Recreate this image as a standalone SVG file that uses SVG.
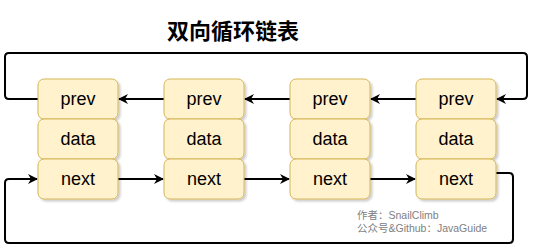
<svg xmlns="http://www.w3.org/2000/svg" width="534" height="251" viewBox="0 0 534 251">
<style>
.box{fill:#fff2cc;stroke:#d6b656;stroke-width:1;filter:url(#sh)}
.lbl{font-family:"Liberation Sans",Arial,sans-serif;font-size:18px;fill:#000;text-anchor:middle;dominant-baseline:central}
.ln{fill:none;stroke:#000;stroke-width:2;stroke-linejoin:round}
.wm{font-family:"Liberation Sans","Noto Sans CJK SC",sans-serif;font-size:10.5px;fill:#808080;font-weight:normal}
</style>
<defs>
<filter id="sh" x="-20%" y="-20%" width="140%" height="140%">
<feDropShadow dx="2" dy="2" stdDeviation="1" flood-color="#000" flood-opacity="0.2"/>
</filter>
<marker id="ah" viewBox="0 0 10 10" refX="9" refY="5" markerWidth="5" markerHeight="5" orient="auto" markerUnits="strokeWidth">
<path d="M0,0 L10,5 L0,10 L3,5 Z" fill="#000"/>
</marker>
</defs>
<text x="233" y="39" font-family="'Noto Sans CJK SC',sans-serif" font-size="22" font-weight="bold" text-anchor="middle">双向循环链表</text>
<g id="connectors">
<path class="ln" d="M38,99 H9 Q5,99 5,95 V57 Q5,53 9,53 H523 Q527,53 527,57 V95 Q527,99 523,99 H497" marker-end="url(#ah)"/>
<path class="ln" d="M164,99 H119" marker-end="url(#ah)"/>
<path class="ln" d="M290,99 H245" marker-end="url(#ah)"/>
<path class="ln" d="M416,99 H371" marker-end="url(#ah)"/>
<path class="ln" d="M118,179 H163" marker-end="url(#ah)"/>
<path class="ln" d="M244,179 H289" marker-end="url(#ah)"/>
<path class="ln" d="M370,179 H415" marker-end="url(#ah)"/>
<path class="ln" d="M496,173 H509 Q513,173 513,177 V239 Q513,243 509,243 H9 Q5,243 5,239 V183 Q5,179 9,179 H37" marker-end="url(#ah)"/>
</g>
<g id="node1">
<rect class="box" x="38" y="79" width="80" height="40" rx="6"/><text class="lbl" x="78" y="99">prev</text>
<rect class="box" x="38" y="119" width="80" height="40" rx="6"/><text class="lbl" x="78" y="139">data</text>
<rect class="box" x="38" y="159" width="80" height="40" rx="6"/><text class="lbl" x="78" y="179">next</text>
</g>
<g id="node2">
<rect class="box" x="164" y="79" width="80" height="40" rx="6"/><text class="lbl" x="204" y="99">prev</text>
<rect class="box" x="164" y="119" width="80" height="40" rx="6"/><text class="lbl" x="204" y="139">data</text>
<rect class="box" x="164" y="159" width="80" height="40" rx="6"/><text class="lbl" x="204" y="179">next</text>
</g>
<g id="node3">
<rect class="box" x="290" y="79" width="80" height="40" rx="6"/><text class="lbl" x="330" y="99">prev</text>
<rect class="box" x="290" y="119" width="80" height="40" rx="6"/><text class="lbl" x="330" y="139">data</text>
<rect class="box" x="290" y="159" width="80" height="40" rx="6"/><text class="lbl" x="330" y="179">next</text>
</g>
<g id="node4">
<rect class="box" x="416" y="79" width="80" height="40" rx="6"/><text class="lbl" x="456" y="99">prev</text>
<rect class="box" x="416" y="119" width="80" height="40" rx="6"/><text class="lbl" x="456" y="139">data</text>
<rect class="box" x="416" y="159" width="80" height="40" rx="6"/><text class="lbl" x="456" y="179">next</text>
</g>
<text class="wm" x="357" y="219">作者：SnailClimb</text>
<text class="wm" x="357" y="232">公众号&amp;Github：JavaGuide</text>
</svg>
